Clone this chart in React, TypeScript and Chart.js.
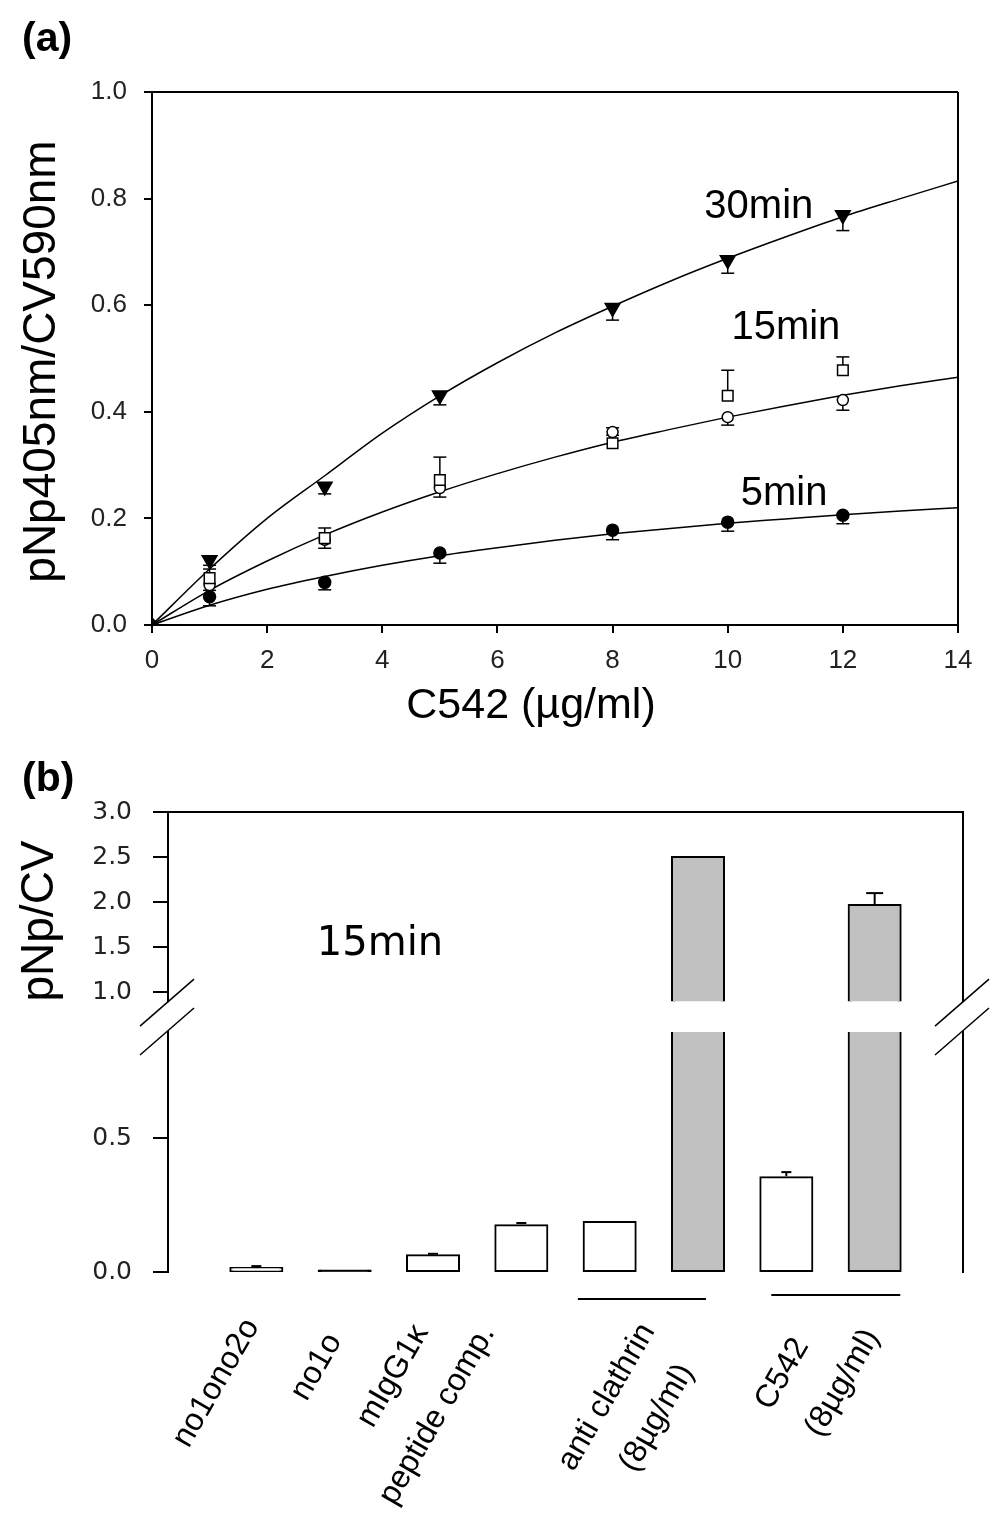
import React, { useEffect, useRef } from "react";
import { Chart, registerables } from "chart.js";

Chart.register(...registerables);

const SANS = '"Liberation Sans", Arial, Helvetica, sans-serif';
const WIDE = '"DejaVu Sans", Verdana, sans-serif';
const INK = "#000000";
const TICK_INK = "#222222";
const BAR_GRAY = "#c0c0c0";

// ---------------- Panel (a) data ----------------
const doseX = [1, 3, 5, 8, 10, 12];
const min30Values = [0.122, 0.26, 0.431, 0.595, 0.685, 0.769];
const min30Errors = [0.01, 0.014, 0.018, 0.023, 0.025, 0.029];
const min15SquareValues = [0.088, 0.163, 0.272, 0.341, 0.43, 0.478];
const min15SquareErrors = [0.017, 0.019, 0.043, 0.029, 0.048, 0.025];
const min15CircleValues = [0.075, 0.16, 0.257, 0.362, 0.39, 0.422];
const min15CircleErrors = [0.01, 0.016, 0.017, 0.006, 0.015, 0.019];
const min5Values = [0.053, 0.08, 0.135, 0.178, 0.193, 0.206];
const min5Errors = [0.017, 0.014, 0.019, 0.018, 0.017, 0.016];
const originX = [0];
const originValues = [0];

const fitX = [0, 1, 2, 3, 4, 5, 6, 7, 8, 9, 10, 11, 12, 13, 14];
const fit30 = [0, 0.105, 0.2, 0.28, 0.36, 0.43, 0.492, 0.548, 0.598, 0.645, 0.688, 0.728, 0.766, 0.8, 0.833];
const fit15 = [0, 0.065, 0.12, 0.169, 0.212, 0.25, 0.284, 0.315, 0.343, 0.367, 0.39, 0.411, 0.431, 0.449, 0.465];
const fit5 = [0, 0.037, 0.067, 0.091, 0.112, 0.13, 0.145, 0.159, 0.171, 0.181, 0.191, 0.199, 0.207, 0.214, 0.22];

const curveNames = ["30min", "15min", "5min"];
const curveNameX = [10.54, 11.01, 10.98];
const curveNameY = [0.764, 0.537, 0.225];

const aXTicks = [0, 2, 4, 6, 8, 10, 12, 14];
const aYTicks = [0, 0.2, 0.4, 0.6, 0.8, 1.0];
const aXTitle = "C542 (µg/ml)";
const aYTitle = "pNp405nm/CV590nm";

// ---------------- Panel (b) data ----------------
const barCategories = ["no1ono2o", "no1o", "mIgG1κ", "peptide comp.", "anti clathrin", "anti clathrin", "C542", "C542"];
const barValues = [0.015, 0.006, 0.063, 0.175, 0.187, 2.5, 0.354, 1.967];
const barErrors = [0.007, 0, 0.005, 0.008, 0, 0, 0.019, 0.133];
const barShaded = [false, false, false, false, false, true, false, true];
const bLowerTicks = [0, 0.5];
const bUpperTicks = [1.0, 1.5, 2.0, 2.5, 3.0];
const bYTitle = "pNp/CV";
const bNote = "15min";
const bNoteX = 2.4;
const bNoteY = 1.411;
const xLabelLines = ["no1ono2o", "no1o", "mIgG1κ", "peptide comp.", "anti clathrin", "(8µg/ml)", "C542", "(8µg/ml)"];
const xLabelAt = [1, 2, 3, 4, 5.5, 5.5, 7.5, 7.5];
const groupFrom = [4.64, 6.83];
const groupTo = [6.09, 8.29];

// ---------------- layout constants ----------------
const LOWER_MAX = 0.9;
const UPPER_MIN = 0.57;
const UPPER_CUT = 0.89;
const X_LABEL_DX = [-40, -28, -40, -84, -47, 3, -48, 12];
const X_LABEL_DY = [111, 95, 104, 143, 125, 146, 102, 111];
const GROUP_DY = [27, 23];

function drawText(ctx: any, text: string, x: number, y: number, font: string, align = "center", baseline = "alphabetic", rot = 0, color = INK) {
  ctx.save();
  ctx.translate(x, y);
  if (rot) ctx.rotate(rot);
  ctx.font = font;
  ctx.fillStyle = color;
  ctx.textAlign = align;
  ctx.textBaseline = baseline;
  ctx.fillText(text, 0, 0);
  ctx.restore();
}

function line(ctx: any, x1: number, y1: number, x2: number, y2: number, w = 2) {
  ctx.save();
  ctx.strokeStyle = INK;
  ctx.lineWidth = w;
  ctx.beginPath();
  ctx.moveTo(x1, y1);
  ctx.lineTo(x2, y2);
  ctx.stroke();
  ctx.restore();
}

function pointSet(values: number[], errors: number[], dir: number, style: string, radius: number, filled: boolean, rotation = 0) {
  return {
    type: "line",
    data: doseX.map((x, i) => ({ x, y: values[i] })),
    showLine: false,
    pointStyle: style,
    pointRadius: radius,
    pointRotation: rotation,
    pointBackgroundColor: filled ? INK : "#ffffff",
    pointBorderColor: INK,
    pointBorderWidth: 1.5,
    errors,
    errDir: dir,
    order: 0,
  };
}

function fitSet(values: number[]) {
  return {
    type: "line",
    data: fitX.map((x, i) => ({ x, y: values[i] })),
    borderColor: INK,
    borderWidth: 1.5,
    pointRadius: 0,
    cubicInterpolationMode: "monotone",
    fill: false,
    order: 5,
  };
}

const errorPluginA = {
  id: "errA",
  beforeDatasetsDraw(chart: any) {
    const { ctx } = chart;
    const x = chart.scales.x;
    const y = chart.scales.y;
    chart.data.datasets.forEach((ds: any) => {
      if (!ds.errors) return;
      ds.data.forEach((p: any, i: number) => {
        const e = ds.errors[i];
        if (!e) return;
        const px = x.getPixelForValue(p.x);
        const y0 = y.getPixelForValue(p.y);
        const y1 = y.getPixelForValue(p.y + ds.errDir * e);
        line(ctx, px, y0, px, y1, 1.5);
        line(ctx, px - 6.5, y1, px + 6.5, y1, 1.5);
      });
    });
  },
};

const decorPluginA = {
  id: "decorA",
  afterDraw(chart: any) {
    const { ctx, chartArea } = chart;
    const { left, right, top, bottom } = chartArea;
    const x = chart.scales.x;
    const y = chart.scales.y;
    line(ctx, left, top, right, top, 2);
    line(ctx, right, top, right, bottom, 2);
    drawText(ctx, "(a)", 22, 51, `bold 41px ${SANS}`, "left");
    drawText(ctx, aYTitle, 42, (top + bottom) / 2 + 3, `46px ${SANS}`, "center", "middle", -Math.PI / 2);
    drawText(ctx, aXTitle, (left + right) / 2 - 24, bottom + 93, `43px ${SANS}`, "center");
    curveNames.forEach((n, i) => {
      drawText(ctx, n, x.getPixelForValue(curveNameX[i]), y.getPixelForValue(curveNameY[i]), `40px ${SANS}`, "center");
    });
  },
};

const clipPluginB = {
  id: "clipB",
  beforeDatasetDraw(chart: any, args: any) {
    const { ctx, chartArea } = chart;
    const ds = chart.data.datasets[args.index];
    const yLow = chart.scales.yLow;
    const yHigh = chart.scales.yHigh;
    ctx.save();
    ctx.beginPath();
    if (ds.yAxisID === "yLow") {
      ctx.rect(chartArea.left, yLow.top + 1, chartArea.right - chartArea.left, yLow.bottom - yLow.top + 2);
    } else {
      const cut = yHigh.getPixelForValue(UPPER_CUT) - 1;
      ctx.rect(chartArea.left, 0, chartArea.right - chartArea.left, cut);
    }
    ctx.clip();
  },
  afterDatasetDraw(chart: any) {
    chart.ctx.restore();
  },
};

const errorPluginB = {
  id: "errB",
  afterDatasetsDraw(chart: any) {
    const { ctx } = chart;
    const x = chart.scales.x;
    barValues.forEach((v, i) => {
      const e = barErrors[i];
      if (!e) return;
      const s = barShaded[i] ? chart.scales.yHigh : chart.scales.yLow;
      const px = x.getPixelForValue(i + 1);
      const y0 = s.getPixelForValue(v) - 1;
      const y1 = s.getPixelForValue(v + e);
      const hw = barShaded[i] ? 8.5 : 5;
      line(ctx, px, y0, px, y1, 2);
      line(ctx, px - hw, y1, px + hw, y1, 2);
    });
  },
};

const decorPluginB = {
  id: "decorB",
  afterDraw(chart: any) {
    const { ctx, chartArea } = chart;
    const { left, right, top, bottom } = chartArea;
    const x = chart.scales.x;
    const yLow = chart.scales.yLow;
    const yHigh = chart.scales.yHigh;
    const cutHigh = yHigh.getPixelForValue(UPPER_CUT);
    const cutLow = yLow.top;
    line(ctx, left, top, right, top, 2);
    [left, right].forEach((X) => {
      line(ctx, X, top - 1, X, cutHigh, 2);
      line(ctx, X, cutLow, X, bottom + 1, 2);
      [cutHigh, cutLow].forEach((Y) => line(ctx, X - 28, Y + 24, X + 26, Y - 23, 1.5));
    });
    groupFrom.forEach((g, i) => {
      const yy = bottom + GROUP_DY[i];
      line(ctx, x.getPixelForValue(g), yy, x.getPixelForValue(groupTo[i]), yy, 2);
    });
    xLabelLines.forEach((t, i) => {
      const cx = x.getPixelForValue(xLabelAt[i]) + X_LABEL_DX[i];
      const cy = bottom + X_LABEL_DY[i];
      drawText(ctx, t, cx, cy, `32px ${SANS}`, "center", "middle", -Math.PI / 3);
    });
    drawText(ctx, "(b)", 22, 31, `bold 41px ${SANS}`, "left");
    drawText(ctx, bYTitle, 40, top + 109, `46px ${SANS}`, "center", "middle", -Math.PI / 2);
    drawText(ctx, bNote, x.getPixelForValue(bNoteX), yHigh.getPixelForValue(bNoteY), `40px ${WIDE}`, "center");
  },
};

function barFill(c: any) {
  const i = c.dataIndex;
  const s = c.chart.scales.yLow;
  if (s && !barShaded[i]) {
    const h = s.getPixelForValue(0) - s.getPixelForValue(barValues[i]);
    if (h < 3) return INK;
  }
  return barShaded[i] ? BAR_GRAY : "#ffffff";
}

export default function App() {
  const refA = useRef<HTMLCanvasElement | null>(null);
  const refB = useRef<HTMLCanvasElement | null>(null);

  useEffect(() => {
    const chartA = new Chart(refA.current as any, {
      type: "line",
      data: {
        datasets: [
          {
            type: "line",
            data: originX.map((x, i) => ({ x, y: originValues[i] })),
            showLine: false,
            pointStyle: "rectRot",
            pointRadius: 7.5,
            pointBackgroundColor: INK,
            pointBorderColor: INK,
            order: 0,
          },
          pointSet(min30Values, min30Errors, -1, "triangle", 8.5, true, 180),
          pointSet(min15SquareValues, min15SquareErrors, 1, "rect", 7.5, false),
          pointSet(min15CircleValues, min15CircleErrors, -1, "circle", 5.5, false),
          pointSet(min5Values, min5Errors, -1, "circle", 6, true),
          fitSet(fit30),
          fitSet(fit15),
          fitSet(fit5),
        ] as any,
      },
      options: {
        animation: false,
        responsive: false,
        devicePixelRatio: 1,
        layout: { padding: { top: 92, right: 46, left: 0, bottom: 0 } },
        plugins: { legend: { display: false }, tooltip: { enabled: false } },
        scales: {
          x: {
            type: "linear",
            min: 0,
            max: 14,
            afterBuildTicks: (s: any) => { s.ticks = aXTicks.map((v) => ({ value: v })); },
            afterFit: (s: any) => { s.height = 135; },
            grid: { display: true, drawOnChartArea: false, drawTicks: true, tickLength: 8, color: INK, lineWidth: 2 },
            border: { display: true, color: INK, width: 2 },
            ticks: { font: { family: SANS, size: 26 }, color: TICK_INK, padding: 12, maxRotation: 0, autoSkip: false, callback: (v: any) => String(v) },
          },
          y: {
            type: "linear",
            min: 0,
            max: 1,
            afterBuildTicks: (s: any) => { s.ticks = aYTicks.map((v) => ({ value: v })); },
            afterFit: (s: any) => { s.width = 152; },
            grid: { display: true, drawOnChartArea: false, drawTicks: true, tickLength: 8, color: INK, lineWidth: 2 },
            border: { display: true, color: INK, width: 2 },
            ticks: { font: { family: SANS, size: 26 }, color: TICK_INK, padding: 17, autoSkip: false, callback: (v: any) => Number(v).toFixed(1) },
          },
        },
      } as any,
      plugins: [errorPluginA, decorPluginA],
    });

    const barBase = {
      type: "bar",
      borderColor: INK,
      borderWidth: 2,
      borderSkipped: false,
      barThickness: 52,
      inflateAmount: 1,
      grouped: false,
    };

    const chartB = new Chart(refB.current as any, {
      type: "bar",
      data: {
        labels: barCategories,
        datasets: [
          {
            ...barBase,
            yAxisID: "yLow",
            data: barValues.map((v, i) => ({ x: i + 1, y: v })),
            backgroundColor: barFill,
          },
          {
            ...barBase,
            yAxisID: "yHigh",
            data: barValues.map((v, i) => ({ x: i + 1, y: v })).filter((_, i) => barShaded[i]),
            backgroundColor: BAR_GRAY,
          },
        ] as any,
      },
      options: {
        animation: false,
        responsive: false,
        devicePixelRatio: 1,
        layout: { padding: { top: 52, right: 41, left: 0, bottom: 247 } },
        plugins: { legend: { display: false }, tooltip: { enabled: false } },
        scales: {
          x: { type: "linear", min: 0, max: 9, offset: false, display: false },
          yLow: {
            type: "linear",
            position: "left",
            stack: "broken",
            stackWeight: 241,
            min: 0,
            max: LOWER_MAX,
            afterBuildTicks: (s: any) => { s.ticks = bLowerTicks.map((v) => ({ value: v })); },
            afterFit: (s: any) => { s.width = 168; },
            grid: { display: true, drawOnChartArea: false, drawTicks: true, tickLength: 15, color: INK, lineWidth: 2 },
            border: { display: false },
            ticks: { font: { family: WIDE, size: 25 }, color: TICK_INK, padding: 21, autoSkip: false, callback: (v: any) => Number(v).toFixed(1) },
          },
          yHigh: {
            type: "linear",
            position: "left",
            stack: "broken",
            stackWeight: 219,
            min: UPPER_MIN,
            max: 3,
            afterBuildTicks: (s: any) => { s.ticks = bUpperTicks.map((v) => ({ value: v })); },
            afterFit: (s: any) => { s.width = 168; },
            grid: { display: true, drawOnChartArea: false, drawTicks: true, tickLength: 15, color: INK, lineWidth: 2 },
            border: { display: false },
            ticks: { font: { family: WIDE, size: 25 }, color: TICK_INK, padding: 21, autoSkip: false, callback: (v: any) => Number(v).toFixed(1) },
          },
        },
      } as any,
      plugins: [clipPluginB, errorPluginB, decorPluginB],
    });

    return () => {
      chartA.destroy();
      chartB.destroy();
    };
  }, []);

  return (
    <div style={{ position: "absolute", left: 0, top: 0, width: 1004, height: 1519, background: "#ffffff", overflow: "hidden" }}>
      <canvas ref={refA} width={1004} height={760} style={{ position: "absolute", left: 0, top: 0, width: 1004, height: 760 }} />
      <canvas ref={refB} width={1004} height={759} style={{ position: "absolute", left: 0, top: 760, width: 1004, height: 759 }} />
    </div>
  );
}
